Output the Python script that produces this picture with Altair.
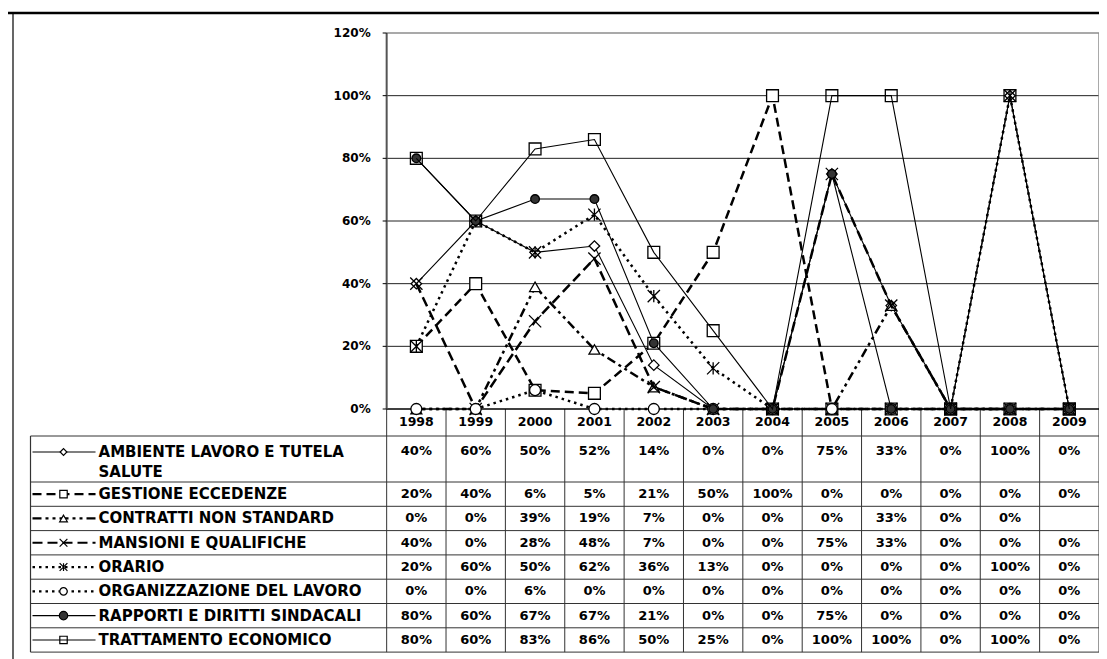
import altair as alt
import pandas as pd

# ---------------- data ----------------
YEARS = [1998, 1999, 2000, 2001, 2002, 2003, 2004, 2005, 2006, 2007, 2008, 2009]
SERIES = [
    "AMBIENTE LAVORO E TUTELA SALUTE",
    "GESTIONE ECCEDENZE",
    "CONTRATTI NON STANDARD",
    "MANSIONI E QUALIFICHE",
    "ORARIO",
    "ORGANIZZAZIONE DEL LAVORO",
    "RAPPORTI E DIRITTI SINDACALI",
    "TRATTAMENTO ECONOMICO",
]
LEGEND_LABELS = [
    "AMBIENTE LAVORO E TUTELA\nSALUTE",
    "GESTIONE ECCEDENZE",
    "CONTRATTI NON STANDARD",
    "MANSIONI E QUALIFICHE",
    "ORARIO",
    "ORGANIZZAZIONE DEL LAVORO",
    "RAPPORTI E DIRITTI SINDACALI",
    "TRATTAMENTO ECONOMICO",
]
AMBIENTE = [40, 60, 50, 52, 14, 0, 0, 75, 33, 0, 100, 0]
GESTIONE = [20, 40, 6, 5, 21, 50, 100, 0, 0, 0, 0, 0]
CONTRATTI = [0, 0, 39, 19, 7, 0, 0, 0, 33, 0, 0, None]
MANSIONI = [40, 0, 28, 48, 7, 0, 0, 75, 33, 0, 0, 0]
ORARIO = [20, 60, 50, 62, 36, 13, 0, 0, 0, 0, 100, 0]
ORGANIZZAZIONE = [0, 0, 6, 0, 0, 0, 0, 0, 0, 0, 0, 0]
RAPPORTI = [80, 60, 67, 67, 21, 0, 0, 75, 0, 0, 0, 0]
TRATTAMENTO = [80, 60, 83, 86, 50, 25, 0, 100, 100, 0, 100, 0]
VALUES = [AMBIENTE, GESTIONE, CONTRATTI, MANSIONI, ORARIO, ORGANIZZAZIONE, RAPPORTI, TRATTAMENTO]
Y_TICKS = [0, 20, 40, 60, 80, 100, 120]

# ---------------- styles ----------------
X_PATH = "M-1,-1L1,1M-1,1L1,-1"
AST_PATH = "M-1,-1L1,1M-1,1L1,-1M0,-1L0,1"
STYLES = [
    dict(dash=None, width=1.1, shape="diamond", size=110, fill="white", lsize=45),
    dict(dash=[9, 5], width=2.5, shape="square", size=140, fill="white", lsize=55),
    dict(dash=[9, 4, 3, 4, 3, 4], width=2.5, shape="triangle-up", size=120, fill="white", lsize=60),
    dict(dash=[10, 5], width=2.5, shape=X_PATH, size=150, fill=None, lsize=60),
    dict(dash=[2.5, 4], width=2.5, shape=AST_PATH, size=150, fill=None, lsize=60),
    dict(dash=[2.5, 4], width=2.5, shape="circle", size=120, fill="white", lsize=55),
    dict(dash=None, width=1.1, shape="circle", size=75, fill="#333333", lsize=70),
    dict(dash=None, width=1.1, shape="square", size=140, fill=None, lsize=55),
]

FONT = "DejaVu Sans"

# ---------------- layout helpers (page pixels -> data units) ----------------
PLOT_TOP, PLOT_ZERO = 33, 409
PX_PER_PCT = (PLOT_ZERO - PLOT_TOP) / 120.0
COL_W = (1099 - 387) / 12.0


def pct(y_page):
    return (PLOT_ZERO - y_page) / PX_PER_PCT


def xyear(x_page):
    return 1997.5 + (x_page - 387) / COL_W


W, H = 1091, 651
XS = alt.Scale(domain=[1991.5, 2009.5], range=[30.5 - 8, 1099 - 8], zero=False, nice=False)
YS = alt.Scale(domain=[0, 120], range=[PLOT_ZERO - 8, PLOT_TOP - 8], zero=False, nice=False)


def xq(f):
    return alt.X(f, type="quantitative", scale=XS, axis=None)


def yq(f):
    return alt.Y(f, type="quantitative", scale=YS, axis=None)


TABLE_TOP = 436
ROW_H = [46] + [24.3] * 7
BOUNDS = [TABLE_TOP]
for h in ROW_H:
    BOUNDS.append(BOUNDS[-1] + h)
TABLE_BOTTOM = BOUNDS[-1]

layers = []

# outer frame lines
layers.append(alt.Chart(pd.DataFrame({"a": [0]})).mark_rule(color="black", strokeWidth=2.5).encode(
    x=alt.value(-3), x2=alt.value(W + 5), y=alt.value(5)))
layers.append(alt.Chart(pd.DataFrame({"a": [0]})).mark_rule(color="black", strokeWidth=1.2).encode(
    x=alt.value(5), y=alt.value(5), y2=alt.value(H + 5)))

# horizontal gridlines
grid_df = pd.DataFrame({"y": Y_TICKS[1:-1], "x0": 1997.5, "x1": 2009.5})
layers.append(alt.Chart(grid_df).mark_rule(color="#222222", strokeWidth=1).encode(
    x=xq("x0"), x2=alt.X2("x1"), y=yq("y")))
# top border (120%)
top_df = pd.DataFrame({"y": [Y_TICKS[-1]], "x0": 1997.5, "x1": 2009.5})
layers.append(alt.Chart(top_df).mark_rule(color="#8c8c8c", strokeWidth=1.5).encode(
    x=xq("x0"), x2=alt.X2("x1"), y=yq("y")))
# right border
rb_df = pd.DataFrame({"x": [2009.5], "y0": 0, "y1": Y_TICKS[-1]})
layers.append(alt.Chart(rb_df).mark_rule(color="#8c8c8c", strokeWidth=1.5).encode(
    x=xq("x"), y=yq("y0"), y2=alt.Y2("y1")))

# table grid: verticals
vert_df = pd.DataFrame({"x": [1997.5 + k for k in range(13)], "y0": 0, "y1": pct(TABLE_BOTTOM)})
layers.append(alt.Chart(vert_df).mark_rule(color="#333333", strokeWidth=1).encode(
    x=xq("x"), y=yq("y0"), y2=alt.Y2("y1")))
left_df = pd.DataFrame({"x": [1991.5], "y0": pct(TABLE_TOP), "y1": pct(TABLE_BOTTOM)})
layers.append(alt.Chart(left_df).mark_rule(color="#333333", strokeWidth=1.2).encode(
    x=xq("x"), y=yq("y0"), y2=alt.Y2("y1")))
# table grid: horizontals
hor_df = pd.DataFrame({"y": [pct(b) for b in BOUNDS], "x0": 1991.5, "x1": 2009.5})
layers.append(alt.Chart(hor_df).mark_rule(color="#333333", strokeWidth=1).encode(
    x=xq("x0"), x2=alt.X2("x1"), y=yq("y")))

# zero line and y axis line
zero_df = pd.DataFrame({"y": [0], "x0": 1997.5, "x1": 2009.5})
layers.append(alt.Chart(zero_df).mark_rule(color="black", strokeWidth=1.5).encode(
    x=xq("x0"), x2=alt.X2("x1"), y=yq("y")))
axis_df = pd.DataFrame({"x": [1997.5], "y0": 0, "y1": Y_TICKS[-1]})
layers.append(alt.Chart(axis_df).mark_rule(color="#555555", strokeWidth=2).encode(
    x=xq("x"), y=yq("y0"), y2=alt.Y2("y1")))

# y ticks and labels
tick_df = pd.DataFrame({"y": Y_TICKS, "x0": xyear(383), "x1": 1997.5,
                        "lab": [f"{t}%" for t in Y_TICKS]})
layers.append(alt.Chart(tick_df).mark_rule(color="black", strokeWidth=1).encode(
    x=xq("x0"), x2=alt.X2("x1"), y=yq("y")))
layers.append(alt.Chart(tick_df).mark_text(
    align="right", baseline="middle", font=FONT, fontWeight="bold", fontSize=12, dx=-16, color="black"
).encode(x=xq("x1"), y=yq("y"), text="lab:N"))

# year header labels
yr_df = pd.DataFrame({"x": YEARS, "y": pct(421.5), "lab": [str(y) for y in YEARS]})
layers.append(alt.Chart(yr_df).mark_text(
    align="center", baseline="middle", font=FONT, fontWeight="bold", fontSize=12.5, color="black"
).encode(x=xq("x"), y=yq("y"), text="lab:N"))

# series lines + markers
for name, vals, st in zip(SERIES, VALUES, STYLES):
    df = pd.DataFrame({"year": YEARS, "value": vals}).dropna()
    line_kw = dict(color="black", strokeWidth=st["width"])
    if st["dash"]:
        line_kw["strokeDash"] = st["dash"]
    layers.append(alt.Chart(df).mark_line(**line_kw).encode(x=xq("year"), y=yq("value")))
    if st["fill"]:
        pt = alt.Chart(df).mark_point(shape=st["shape"], size=st["size"], filled=True, fill=st["fill"],
                                      stroke="black", strokeWidth=1.3, opacity=1)
    else:
        pt = alt.Chart(df).mark_point(shape=st["shape"], size=st["size"], filled=False,
                                      stroke="black", strokeWidth=1.3, opacity=1)
    layers.append(pt.encode(x=xq("year"), y=yq("value")))

# legend column in table
for i, (lab, st) in enumerate(zip(LEGEND_LABELS, STYLES)):
    if i == 0:
        ymid = BOUNDS[0] + 16
    else:
        ymid = (BOUNDS[i] + BOUNDS[i + 1]) / 2
    sdf = pd.DataFrame({"x0": [xyear(33)], "x1": [xyear(96)], "xm": [xyear(64)], "y": [pct(ymid)],
                        "xt": [xyear(99)], "lab": [lab]})
    line_kw = dict(color="black", strokeWidth=min(st["width"], 2.2))
    if st["dash"]:
        line_kw["strokeDash"] = st["dash"]
    layers.append(alt.Chart(sdf).mark_rule(**line_kw).encode(x=xq("x0"), x2=alt.X2("x1"), y=yq("y")))
    if st["fill"]:
        pt = alt.Chart(sdf).mark_point(shape=st["shape"], size=st["lsize"], filled=True, fill=st["fill"],
                                       stroke="black", strokeWidth=1.2, opacity=1)
    else:
        pt = alt.Chart(sdf).mark_point(shape=st["shape"], size=st["lsize"], filled=False,
                                       stroke="black", strokeWidth=1.2, opacity=1)
    layers.append(pt.encode(x=xq("xm"), y=yq("y")))
    layers.append(alt.Chart(sdf).mark_text(
        align="left", baseline="middle", font=FONT, fontWeight="bold", fontSize=15, color="black",
        lineBreak="\n", lineHeight=20
    ).encode(x=xq("xt"), y=yq("y"), text="lab:N"))

# value cells
rows = []
for i, vals in enumerate(VALUES):
    if i == 0:
        yv = BOUNDS[0] + 15
    else:
        yv = (BOUNDS[i] + BOUNDS[i + 1]) / 2
    for yr, v in zip(YEARS, vals):
        rows.append({"x": yr, "y": pct(yv), "lab": "" if v is None else f"{v}%"})
val_df = pd.DataFrame(rows)
layers.append(alt.Chart(val_df).mark_text(
    align="center", baseline="middle", font=FONT, fontWeight="bold", fontSize=13, color="black"
).encode(x=xq("x"), y=yq("y"), text="lab:N"))

chart = alt.layer(*layers).properties(
    width=W, height=H, padding=0, autosize=alt.AutoSizeParams(type="none"), background="white"
).configure_view(stroke=None)

chart.save("out.html", embed_options={"renderer": "svg", "actions": False})
